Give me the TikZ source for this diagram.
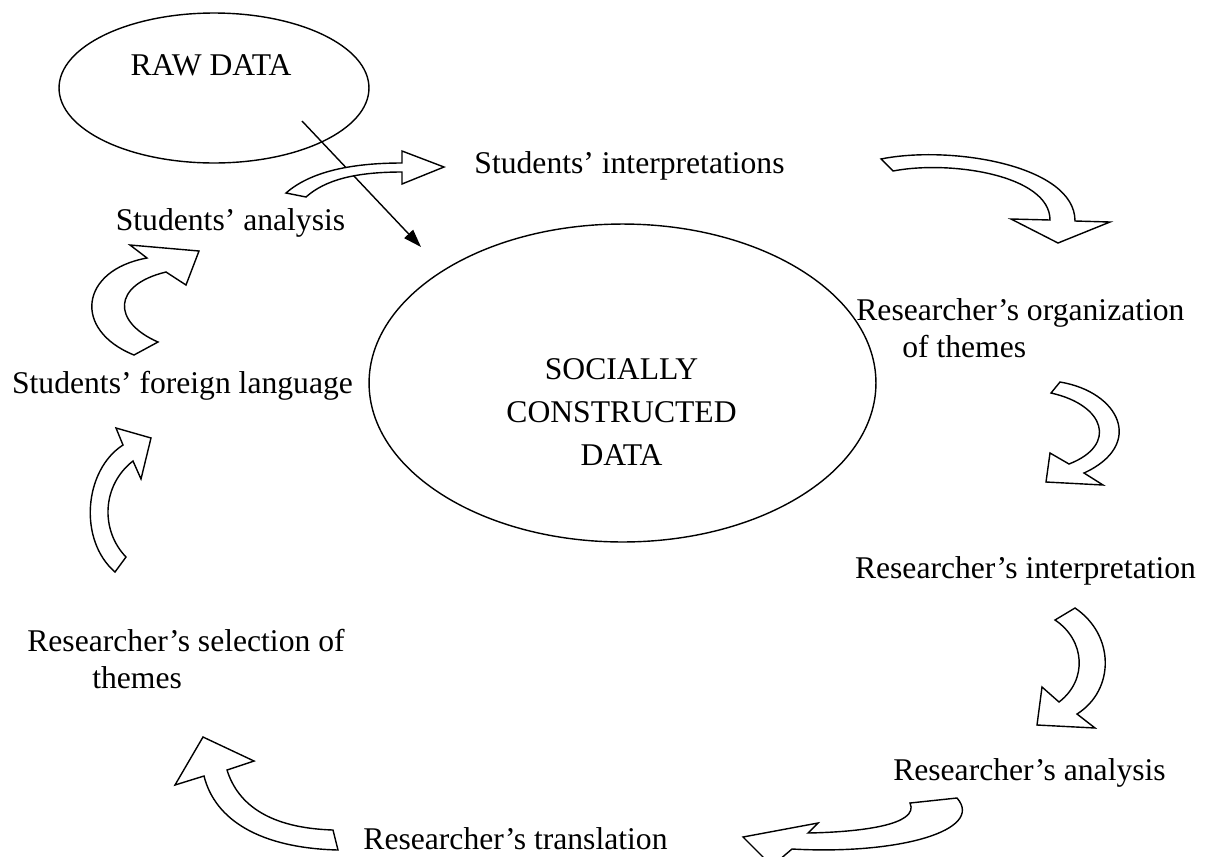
\documentclass[tikz,border=0pt]{standalone}
\usepackage{fontspec}
\setmainfont{Liberation Serif}
\usetikzlibrary{shapes.geometric,arrows.meta,calc}

\begin{document}
\begin{tikzpicture}[x=0.02cm,y=-0.02cm,
		bubble/.style={ellipse,draw,line width=0.8pt,inner sep=0pt},
		txt/.style={font=\fontsize{18}{20.8}\selectfont,inner sep=0pt},
		curvedarrow/.style={draw,line width=0.8pt,fill=white,line join=miter},
		thinarrow/.style={line width=0.8pt,-{Triangle[length=3.6mm,width=2.4mm]}}]

		\clip (0,0) rectangle (1209,856);

		% Ellipses
		\node[bubble, minimum width=6.2cm, minimum height=3cm] (raw) at (214,88) {};
		\node[txt, anchor=base] (rawlbl) at (211,75) {RAW DATA};

		\node[bubble, minimum width=10.14cm, minimum height=6.36cm] (social) at (622.5,383) {};
		\node[txt, anchor=base, align=center, font=\fontsize{18}{24.2}\selectfont] (sociallbl) at (621.5,465) {SOCIALLY\\CONSTRUCTED\\DATA};

		% Steps
		\node[txt, anchor=base] (sinterp) at (629.5,173) {Students' interpretations};
		\node[txt, anchor=base] (sanalysis) at (230.5,230) {Students' analysis};
		\node[txt, anchor=base] (sforeign) at (182.5,393) {Students' foreign language};
		\node[txt, anchor=base west, align=left] (rorg) at (856,357) {Researcher's organization\\\hspace*{0.92cm}of themes};
		\node[txt, anchor=base] (rinterp) at (1025.5,578) {Researcher's interpretation};
		\node[txt, anchor=base] (ranalysis) at (1029.5,780) {Researcher's analysis};
		\node[txt, anchor=base] (rtrans) at (515.5,849) {Researcher's translation};
		\node[txt, anchor=base west, align=left] (rselect) at (27,688) {Researcher's selection of\\\hspace*{1.3cm}themes};

		% Thin arrow
		\coordinate (rawin) at ($(raw.center)+(88,33)$);
		\coordinate (socin) at ($(social.center)+(-201.5,-136)$);
		\draw[thinarrow] (rawin) -- (socin);

		% Curved block arrows
		% analysis -> interpretations
		\path[curvedarrow] (286,193) .. controls (310,172) and (350,163) .. (402,163) -- (402,151) -- (444,167) -- (402,184) -- (402,172) .. controls (355,172) and (325,180) .. (306,197) -- cycle;
		% interpretations -> organization
		\path[curvedarrow] (881,159) .. controls (950,145) and (1075,165) .. (1075,221) -- (1110,222) -- (1058,243) -- (1011,219) -- (1050,220) .. controls (1050,175) and (950,160) .. (893,171) -- cycle;
		% organization -> interpretation
		\path[curvedarrow] (1060,382) .. controls (1120,392) and (1145,445) .. (1084,473) -- (1103,485) -- (1046,482) -- (1050,453) -- (1069,464) .. controls (1118,445) and (1105,405) .. (1051,393) -- cycle;
		% interpretation -> analysis
		\path[curvedarrow] (1075,608) .. controls (1115,635) and (1115,690) .. (1077,714) -- (1095,728) -- (1037,725) -- (1042,687) -- (1059,702) .. controls (1088,680) and (1085,640) .. (1055,620) -- cycle;
		% analysis -> translation
		\path[curvedarrow] (957,798) .. controls (985,830) and (900,855) .. (792,849) -- (772,866) -- (743,837) -- (818,823) -- (808,833) .. controls (860,832) and (920,825) .. (910,803) -- cycle;
		% translation -> selection
		\path[curvedarrow] (338,850) .. controls (260,848) and (215,820) .. (204,776) -- (175,785) -- (203,737) -- (254,761) -- (227,770) .. controls (238,805) and (270,828) .. (333,830) -- cycle;
		% selection -> foreign language
		\path[curvedarrow] (115,572) .. controls (78,540) and (84,470) .. (123,445) -- (116,428) -- (151,438) -- (141,479) -- (133,461) .. controls (102,485) and (100,530) .. (126,557) -- cycle;
		% foreign language -> analysis
		\path[curvedarrow] (134,355) .. controls (72,330) and (80,270) .. (147,258) -- (130,245) -- (199,251) -- (186,285) -- (166,272) .. controls (112,285) and (112,322) .. (158,342) -- cycle;

	\end{tikzpicture}
\end{document}
